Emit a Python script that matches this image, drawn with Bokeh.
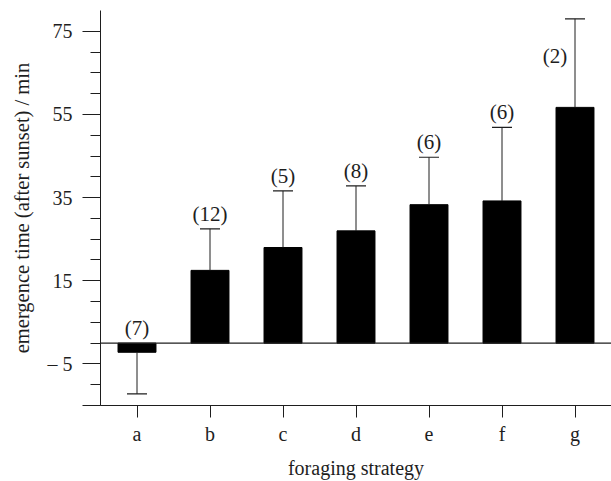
from bokeh.plotting import figure
from bokeh.models import FactorRange, Range1d, FixedTicker, Span, ColumnDataSource
from bokeh.embed import file_html
from bokeh.resources import INLINE

categories = ["a", "b", "c", "d", "e", "f", "g"]
mean_emergence = [-2.2, 17.5, 23.0, 27.0, 33.3, 34.2, 56.7]
error_size = [10.0, 10.0, 13.6, 10.8, 11.4, 17.7, 21.3]
sample_sizes = [7, 12, 5, 8, 6, 6, 2]

y_major = [-15, -5, 15, 35, 55, 75]
y_minor = [-15, -10, -5, 0, 5, 10, 15, 20, 25, 30, 35, 40, 45, 50, 55, 60, 65, 70, 75]

FONT = "Liberation Serif"
INK = "#1e1e1e"
Y_MAX = 80

ends = [m + e if m >= 0 else m - e for m, e in zip(mean_emergence, error_size)]
label_text = ["(%d)" % n for n in sample_sizes]
label_y, label_xo, label_yo = [], [], []
for m, end in zip(mean_emergence, ends):
    top = end if m >= 0 else 0
    if top > Y_MAX - 8:
        label_y.append(top - 9)
        label_xo.append(-20)
        label_yo.append(0)
    else:
        label_y.append(top)
        label_xo.append(0)
        label_yo.append(-15)

src = ColumnDataSource(dict(cat=categories, mean=mean_emergence, end=ends,
                            lab=label_text, ly=label_y, lxo=label_xo, lyo=label_yo))

p = figure(x_range=FactorRange(*categories, range_padding=0),
           y_range=Range1d(-15, Y_MAX),
           frame_width=511, frame_height=395, output_backend="svg", toolbar_location=None,
           min_border_left=100, min_border_top=10, min_border_right=0, min_border_bottom=0)
p.outline_line_color = None
p.xgrid.visible = False
p.ygrid.visible = False
p.background_fill_color = "white"

p.vbar(x="cat", top="mean", bottom=0, width=0.52, source=src,
       fill_color="black", line_color="black")
p.segment(x0="cat", y0="mean", x1="cat", y1="end", source=src,
          line_color=INK, line_width=1)
p.scatter(x="cat", y="end", marker="dash", size=20, source=src,
          line_color=INK, line_width=1.2)
p.text(x="cat", y="ly", text="lab", x_offset="lxo", y_offset="lyo", source=src,
       text_align="center", text_baseline="middle", text_font_size="21px",
       text_color=INK, text_font={"value": FONT})

p.add_layout(Span(location=0, dimension="width", line_color=INK, line_width=1.3))

# y axis
ya = p.yaxis[0]
ya.ticker = FixedTicker(ticks=y_major, minor_ticks=y_minor)
ya.major_label_overrides = {-15: "", -5: "\u2013 5"}
ya.major_tick_out = 18
ya.major_tick_in = 0
ya.minor_tick_out = 10
ya.minor_tick_in = 0
ya.major_label_standoff = 10
ya.axis_label = "emergence time (after sunset) / min"
ya.axis_label_standoff = 12
ya.axis_label_text_font = FONT
ya.axis_label_text_font_style = "normal"
ya.axis_label_text_font_size = "20.5px"
ya.axis_label_text_color = INK
ya.major_label_text_font = FONT
ya.major_label_text_font_size = "20px"
ya.major_label_text_color = INK
ya.axis_line_color = INK
ya.major_tick_line_color = INK
ya.minor_tick_line_color = INK

# x axis
xa = p.xaxis[0]
xa.major_tick_out = 12
xa.major_tick_in = 0
xa.major_label_standoff = 5
xa.axis_label = "foraging strategy"
xa.axis_label_standoff = 9
xa.axis_label_text_font = FONT
xa.axis_label_text_font_style = "normal"
xa.axis_label_text_font_size = "20px"
xa.axis_label_text_color = INK
xa.major_label_text_font = FONT
xa.major_label_text_font_size = "20px"
xa.major_label_text_color = INK
xa.axis_line_color = INK
xa.major_tick_line_color = INK

open("out.html", "w").write(file_html(p, INLINE))
